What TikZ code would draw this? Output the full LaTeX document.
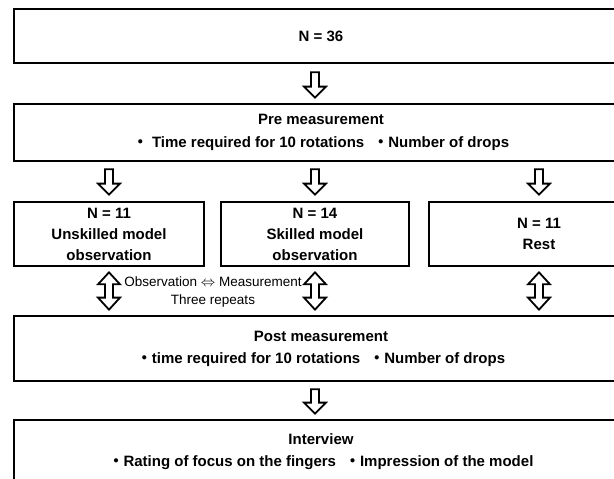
\documentclass[tikz,border=0pt]{standalone}
\usepackage{fontspec}
\setmainfont{Liberation Sans}
\newfontfamily\cjk{Noto Sans CJK JP}
\usetikzlibrary{calc,positioning}

\begin{document}
\begin{tikzpicture}[
  x=1pt,y=1pt,
  font=\bfseries\fontsize{15}{21}\selectfont,
  box/.style={draw=black,line width=2.7pt,align=center,inner sep=0pt},
  blk/.style={draw=black,fill=white,line width=1.8pt,line join=miter},
  note/.style={font=\fontsize{13.5}{18}\selectfont,align=center}
]
\useasboundingbox[fill=white] (0,0) rectangle (614,479);

\newcommand{\bul}{{\cjk ・}}

% ---- boxes ----
\node[box,minimum width=614,minimum height=54] (total) at (321,443) {N = 36};
\node[box,minimum width=614,minimum height=57,font=\bfseries\fontsize{15}{23}\selectfont] (pre) at (321,346.5)
  {Pre measurement\\ \bul\ Time required for 10 rotations\hspace{0.6em}\bul Number of drops};
\node[box,minimum width=190,minimum height=64] (grpA) at (109,245) {N = 11\\ Unskilled model\\ observation};
\node[box,minimum width=188,minimum height=64] (grpB) at (315,245) {N = 14\\ Skilled model\\ observation};
\node[box,minimum width=220,minimum height=64] (grpC) at (539,245) {N = 11\\ Rest};
\node[box,minimum width=614,minimum height=65,font=\bfseries\fontsize{15}{22}\selectfont] (post) at (321,130.5)
  {Post measurement\\ \bul time required for 10 rotations\hspace{0.6em}\bul Number of drops};
\node[box,minimum width=614,minimum height=63,font=\bfseries\fontsize{15}{22}\selectfont] (intv) at (321,27.5)
  {Interview\\ \bul Rating of focus on the fingers\hspace{0.6em}\bul Impression of the model};

\node[note] (rep) at (213,187) {Observation \ensuremath{\Leftrightarrow} Measurement\\ Three repeats};

% ---- block arrows ----
\newcommand{\blkdown}[2]{%
  \draw[blk] ($(#1)+(-4,0)$) -- ($(#2)+(-4,11)$) -- ($(#2)+(-11,11)$) -- (#2)
    -- ($(#2)+(11,11)$) -- ($(#2)+(4,11)$) -- ($(#1)+(4,0)$) -- cycle;
}
\newcommand{\blkboth}[2]{%
  \draw[blk] (#1) -- ($(#1)+(11,-12)$) -- ($(#1)+(4,-12)$) -- ($(#2)+(4,12)$)
    -- ($(#2)+(11,12)$) -- (#2) -- ($(#2)+(-11,12)$) -- ($(#2)+(-4,12)$)
    -- ($(#1)+(-4,-12)$) -- ($(#1)+(-11,-12)$) -- cycle;
}

\coordinate (s0) at ($(grpB.north |- total.south)+(0,-8)$);
\coordinate (e0) at ($(grpB.north |- pre.north)+(0,5)$);
\blkdown{s0}{e0}

\foreach \g in {grpA,grpB,grpC} {
  \coordinate (s\g) at ($(\g.north |- pre.south)+(0,-7)$);
  \coordinate (e\g) at ($(\g.north)+(0,6)$);
  \blkdown{s\g}{e\g}
  \coordinate (u\g) at ($(\g.south)+(0,-5)$);
  \coordinate (d\g) at ($(\g.south |- post.north)+(0,5)$);
  \blkboth{u\g}{d\g}
}

\coordinate (s9) at ($(grpB.north |- post.south)+(0,-7)$);
\coordinate (e9) at ($(grpB.north |- intv.north)+(0,5)$);
\blkdown{s9}{e9}

\end{tikzpicture}
\end{document}
